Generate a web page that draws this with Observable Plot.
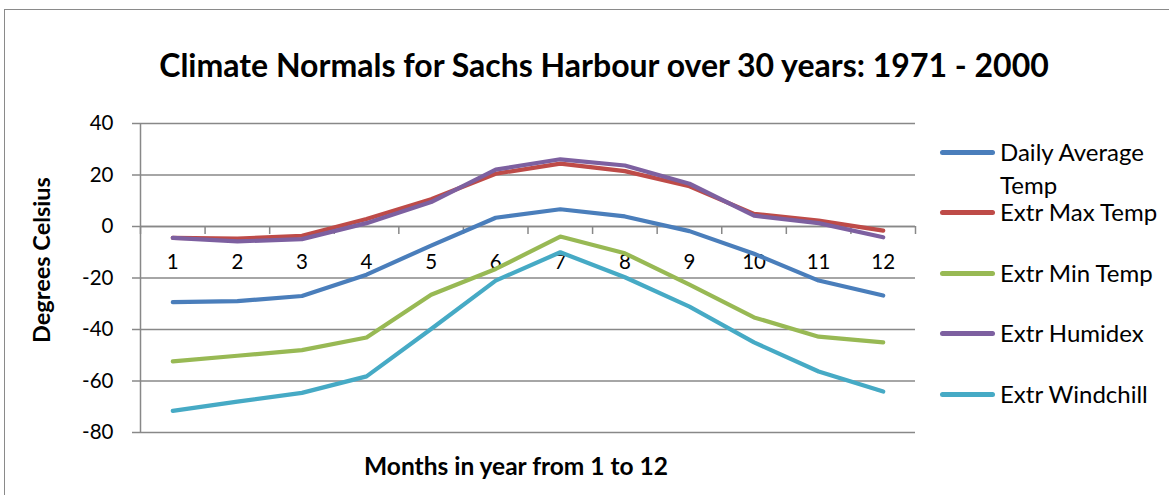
<!DOCTYPE html>
<html>
<head>
<meta charset="utf-8">
<script src="https://cdn.jsdelivr.net/npm/d3@7"></script>
<script src="https://cdn.jsdelivr.net/npm/@observablehq/plot@0.6"></script>
<style>
  html, body { margin: 0; padding: 0; background: #fff; }
  #wrap { position: relative; width: 1169px; height: 495px; overflow: hidden; font-family: Lato, "Open Sans", sans-serif; color: #000; }
  #frame { position: absolute; left: 4px; top: 9px; width: 1180px; height: 500px; border-left: 1.5px solid #8a8a8a; border-top: 1.5px solid #8a8a8a; }
  #title { position: absolute; left: 0; width: 1208px; top: 45px; text-align: center; font-weight: bold; font-size: 32px; line-height: 40px; }
  #ylabel { position: absolute; left: 41px; top: 260px; transform: translate(-50%, -50%) rotate(-90deg); font-weight: bold; font-size: 23.5px; white-space: nowrap; }
  #xlabel { position: absolute; left: 516px; top: 465px; transform: translate(-50%, -50%); font-weight: bold; font-size: 24.5px; white-space: nowrap; }
  #chart { position: absolute; left: 0; top: 0; }
  .leg { position: absolute; left: 940px; font-size: 24px; line-height: 32px; }
  .leg .sw { position: absolute; left: 0; width: 55px; height: 5px; border-radius: 3px; }
  .leg .tx { position: absolute; left: 60px; white-space: nowrap; }
</style>
</head>
<body>
<div id="wrap">
  <div id="frame"></div>
  <div id="chart"></div>
  <div id="title">Climate Normals for Sachs Harbour over 30 years: 1971 - 2000</div>
  <div id="ylabel">Degrees Celsius</div>
  <div id="xlabel">Months in year from 1 to 12</div>
  <div id="legend"></div>
</div>
<script>
const months = [1, 2, 3, 4, 5, 6, 7, 8, 9, 10, 11, 12];
const seriesNames = ["Daily Average Temp", "Extr Max Temp", "Extr Min Temp", "Extr Humidex", "Extr Windchill"];
const seriesColors = ["#4A7EBB", "#BE4B48", "#98B954", "#7D60A0", "#46AAC5"];
const dailyAverage = [-29.4, -29.0, -27.0, -18.7, -7.4, 3.4, 6.7, 3.9, -1.8, -10.6, -21.0, -26.8];
const extrMax = [-4.4, -4.7, -3.6, 2.9, 10.6, 20.5, 24.4, 21.5, 15.6, 4.9, 2.3, -1.6];
const extrMin = [-52.4, -50.2, -48.0, -43.1, -26.5, -16.5, -3.9, -10.4, -22.6, -35.3, -42.8, -45.0];
const extrHumidex = [-4.4, -5.8, -4.9, 1.3, 9.5, 22.1, 26.1, 23.7, 16.6, 4.2, 1.3, -4.2];
const extrWindchill = [-71.6, -68.0, -64.6, -58.2, -39.8, -21.0, -10.0, -19.7, -31.1, -45.0, -56.3, -64.1];
const yTicks = [-80, -60, -40, -20, 0, 20, 40];

const seriesValues = [dailyAverage, extrMax, extrMin, extrHumidex, extrWindchill];
const rows = [];
seriesNames.forEach((name, s) => {
  months.forEach((m, i) => rows.push({series: name, month: m, value: seriesValues[s][i]}));
});
const bounds = d3.range(0.5, 13, 1);

const plot = Plot.plot({
  width: 1169,
  height: 495,
  marginLeft: 140,
  marginRight: 254,
  marginTop: 123,
  marginBottom: 63,
  style: {fontFamily: "Lato, 'Open Sans', sans-serif", background: "transparent"},
  x: {domain: [0.5, 12.5], axis: null},
  y: {domain: [-80, 40], axis: null},
  color: {domain: seriesNames, range: seriesColors},
  marks: [
    Plot.ruleY(yTicks, {stroke: "#888", strokeWidth: 1.5, strokeOpacity: 1}),
    Plot.axisY({ticks: yTicks, tickSize: 8, tickPadding: 19, fontSize: 20.5, tickFormat: d => String(d), label: null, stroke: "#888", strokeWidth: 1.5, strokeOpacity: 1, color: "#000"}),
    Plot.ruleX([0.5], {stroke: "#888", strokeWidth: 1.5}),
    Plot.ruleY([0], {stroke: "#888", strokeWidth: 1.5}),
    Plot.ruleX(bounds, {x: d => d, y1: 0, y2: -3.1, stroke: "#888", strokeWidth: 1.5}),
    Plot.text(months, {x: d => d, y: 0, dy: 36, text: d => String(d), fontSize: 20.5, fill: "#000"}),
    Plot.line(rows, {x: "month", y: "value", z: "series", stroke: "series", strokeWidth: 4.2, strokeLinecap: "round", strokeLinejoin: "round"})
  ]
});
document.getElementById("chart").appendChild(plot);

const legendPos = [
  {line: 152, text: 152, text2: 185},
  {line: 212, text: 212},
  {line: 273, text: 273},
  {line: 333, text: 333},
  {line: 394, text: 394}
];
const legend = document.getElementById("legend");
seriesNames.forEach((name, i) => {
  const p = legendPos[i];
  const item = document.createElement("div");
  item.className = "leg";
  item.style.top = "0px";
  const sw = document.createElement("div");
  sw.className = "sw";
  sw.style.background = seriesColors[i];
  sw.style.top = (p.line - 2.5) + "px";
  item.appendChild(sw);
  if (i === 0) {
    const t1 = document.createElement("div");
    t1.className = "tx"; t1.textContent = "Daily Average"; t1.style.top = (p.text - 16) + "px";
    const t2 = document.createElement("div");
    t2.className = "tx"; t2.textContent = "Temp"; t2.style.top = (p.text2 - 16) + "px";
    item.appendChild(t1); item.appendChild(t2);
  } else {
    const t = document.createElement("div");
    t.className = "tx"; t.textContent = name; t.style.top = (p.text - 16) + "px";
    item.appendChild(t);
  }
  legend.appendChild(item);
});
</script>
</body>
</html>
